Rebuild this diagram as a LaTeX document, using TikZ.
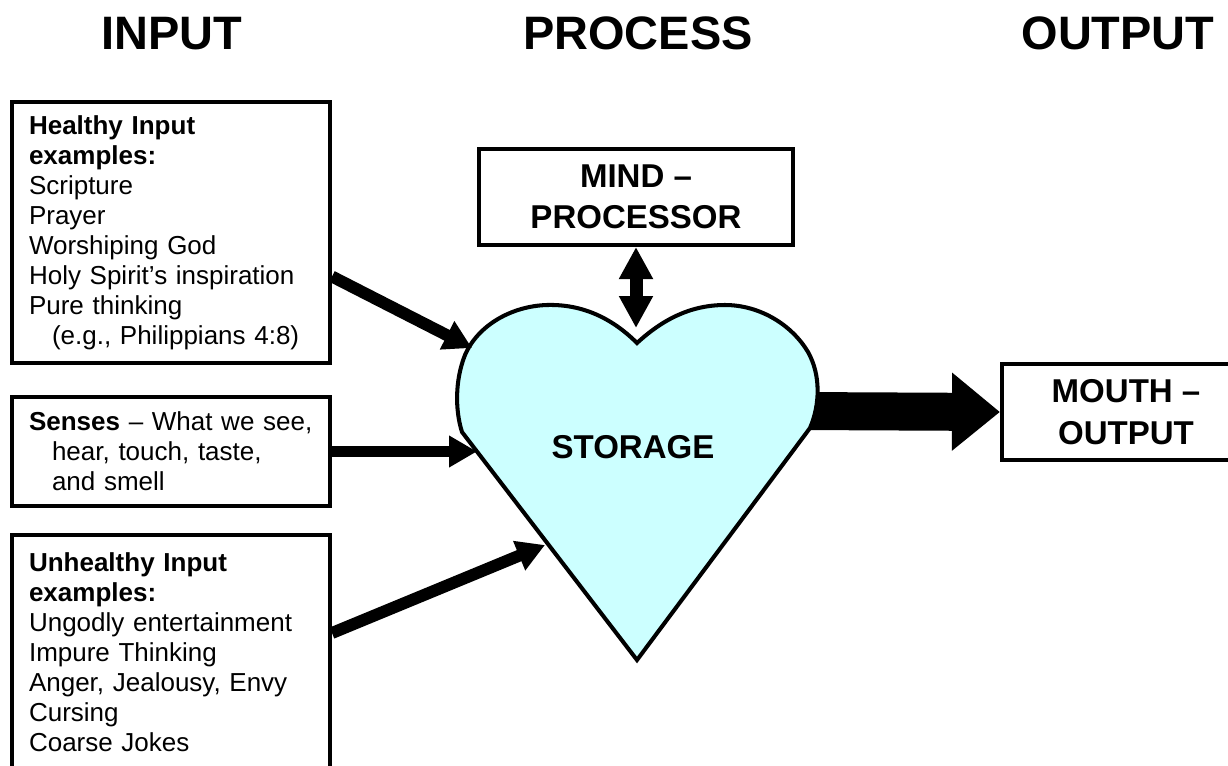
\documentclass[tikz,border=0pt]{standalone}
\usepackage{fontspec}
\setmainfont{Liberation Sans}
\usetikzlibrary{arrows.meta}
\definecolor{heartcyan}{HTML}{CCFFFF}
\tikzset{
  inbox/.style={draw, line width=2.3pt, align=left, text width=5.68cm, inner xsep=0.34cm, inner ysep=0pt,
    font=\fontsize{14.8}{17.1}\selectfont},
  capbox/.style={draw, line width=2.3pt, align=center, inner sep=0pt,
    font=\bfseries\fontsize{18.8}{23.5}\selectfont},
  title/.style={anchor=base, font=\bfseries\fontsize{26.7}{30}\selectfont},
  feed/.style={line width=6.8pt, -{Triangle[length=0.56cm,width=0.6cm]}},
}
\newcommand{\ind}{\hspace*{0.46cm}}
\begin{document}
\begin{tikzpicture}[x=0.02cm,y=-0.02cm]
\useasboundingbox (0,0) rectangle (1228,765);
% headings
  \node[title] (tin) at (172,49) {INPUT};
  \node[title] (tproc) at (638,49) {PROCESS};
  \node[title] (tout) at (1118,49) {OUTPUT};
% input boxes
  \node[inbox, minimum width=6.36cm, minimum height=5.22cm] (healthy) at (171,232.5)
    {\textbf{Healthy Input}\\ \textbf{examples:}\\ Scripture\\ Prayer\\ Worshiping God\\
     Holy Spirit’s inspiration\\ Pure thinking\\ \ind(e.g., Philippians 4:8)};
  \node[inbox, minimum width=6.36cm, minimum height=2.18cm] (senses) at (171,451.5)
    {\textbf{Senses} – What we see,\\ \ind hear, touch, taste,\\ \ind and smell};
  \node[inbox, minimum width=6.36cm, minimum height=4.7cm] (unhealthy) at (171,652.5)
    {\textbf{Unhealthy Input}\\ \textbf{examples:}\\ Ungodly entertainment\\ Impure Thinking\\
     Anger, Jealousy, Envy\\ Cursing\\ Coarse Jokes};
% mind and mouth
  \node[capbox, minimum width=6.28cm, minimum height=1.92cm] (mind) at (636,197) {MIND –\\ PROCESSOR};
  \node[capbox, minimum width=4.96cm, minimum height=1.92cm] (mouth) at (1126,412) {MOUTH –\\ OUTPUT};
% output arrow (under the heart)
  \coordinate (hr) at (800,411);
  \draw[line width=0.76cm, -{Triangle[length=0.96cm,width=1.5cm]}] (hr) -- (mouth.west);
% the heart
  \draw[line width=2.3pt, fill=heartcyan]
    (637,343) .. controls (612,318) and (582,304) .. (547,305)
    .. controls (512,306) and (478,325) .. (465,355)
    .. controls (455,380) and (455,410) .. (462,432)
    -- (637,660) -- (810,428)
    .. controls (820,405) and (821,375) .. (808,352)
    .. controls (792,325) and (760,305) .. (725,305)
    .. controls (690,305) and (662,320) .. (637,343) -- cycle;
  \node[font=\bfseries\fontsize{18.8}{22}\selectfont] (storage) at (633,447) {STORAGE};
% arrows into the heart
  \coordinate (h1) at (472,348);
  \coordinate (h2) at (477,452);
  \coordinate (h3) at (545,545);
  \coordinate (hm) at (636,328);
  \draw[feed] ([yshift=-0.88cm]healthy.east) -- (h1);
  \draw[feed] (senses.east) -- (senses.east -| h2);
  \draw[feed] ([yshift=0.39cm]unhealthy.east) -- (h3);
  \draw[line width=0.26cm, {Triangle[length=0.64cm,width=0.64cm]}-{Triangle[length=0.64cm,width=0.64cm]}]
    (mind.south) -- (hm);
\end{tikzpicture}
\end{document}
